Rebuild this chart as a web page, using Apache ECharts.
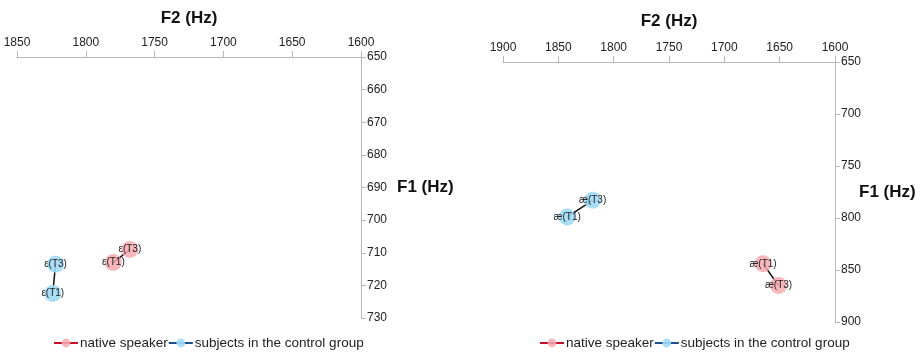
<!DOCTYPE html>
<html>
<head>
<meta charset="utf-8">
<script src="https://cdn.jsdelivr.net/npm/echarts@6/dist/echarts.min.js"></script>
<style>
  html, body { margin: 0; padding: 0; background: #fff; }
  #chart { width: 920px; height: 353px; }
</style>
</head>
<body>
<div id="chart"></div>
<script>
// left panel: /ε/
const leftLabels = ["ε(T1)", "ε(T3)"];
const leftNativeF2 = [1780, 1768];
const leftNativeF1 = [713, 709];
const leftControlF2 = [1824, 1822];
const leftControlF1 = [722.5, 713.5];

// right panel: /æ/
const rightLabels = ["æ(T1)", "æ(T3)"];
const rightNativeF2 = [1665, 1651];
const rightNativeF1 = [844, 865];
const rightControlF2 = [1842, 1819];
const rightControlF1 = [799, 783];

const seriesNames = ["native speaker", "subjects in the control group"];
const pink = "rgba(247,170,178,0.85)";
const blue = "rgba(160,218,246,0.9)";

const font = "Liberation Sans, Arial, sans-serif";

function pts(f2, f1, labels) {
  return f2.map((v, i) => ({ value: [v, f1[i]], label: { formatter: labels[i] } }));
}

function mkSeries(name, color, idx, f2, f1, labels) {
  return {
    name,
    type: "line",
    xAxisIndex: idx,
    yAxisIndex: idx,
    data: pts(f2, f1, labels),
    symbol: "circle",
    symbolSize: 17,
    itemStyle: { color },
    lineStyle: { color: "#111", width: 1.5 },
    label: {
      show: true,
      position: "inside",
      color: "#222",
      fontSize: 10,
      fontFamily: font,
    },
    z: 3,
  };
}

function xAxis(idx, min, max, gap) {
  return {
    gridIndex: idx,
    type: "value",
    position: "top",
    inverse: true,
    min,
    max,
    interval: 50,
    name: "F2 (Hz)",
    nameLocation: "middle",
    nameGap: gap,
    nameMoveOverlap: false,
    nameTextStyle: { fontSize: 17, fontWeight: "bold", color: "#111", fontFamily: font },
    axisLine: { lineStyle: { color: "#b8b8b8" } },
    axisTick: { show: true, length: 6, lineStyle: { color: "#b8b8b8" } },
    axisLabel: { color: "#222", fontSize: 12, fontFamily: font, margin: 8, formatter: (v) => String(v) },
    splitLine: { show: false },
  };
}

function yAxis(idx, min, max, interval, gap) {
  return {
    gridIndex: idx,
    type: "value",
    position: "right",
    inverse: true,
    min,
    max,
    interval,
    name: "F1 (Hz)",
    nameLocation: "middle",
    nameRotate: 0,
    nameGap: gap,
    nameMoveOverlap: false,
    nameTextStyle: { fontSize: 17, fontWeight: "bold", color: "#111", fontFamily: font, align: "left" },
    axisLine: { show: true, lineStyle: { color: "#b8b8b8" } },
    axisTick: { show: true, length: 5, lineStyle: { color: "#b8b8b8" } },
    axisLabel: { color: "#222", fontSize: 12, fontFamily: font, margin: 6, formatter: (v) => String(v) },
    splitLine: { show: false },
  };
}

function legend(left) {
  return {
    left,
    top: 331,
    itemWidth: 24,
    itemHeight: 11,
    itemGap: 0,
    textStyle: { fontSize: 13.5, color: "#222", fontFamily: font, padding: [0, 0, 0, -3] },
    data: [
      { name: seriesNames[0], itemStyle: { color: pink }, lineStyle: { color: "#c0102c", width: 2 } },
      { name: seriesNames[1], itemStyle: { color: blue }, lineStyle: { color: "#1d4f8c", width: 2 } },
    ],
  };
}

const chart = echarts.init(document.getElementById("chart"), null, { renderer: "canvas" });
chart.setOption({
  backgroundColor: "#fff",
  animation: false,
  grid: [
    { left: 17, top: 57, width: 344, height: 261, outerBoundsMode: "none", containLabel: false },
    { left: 503, top: 62, width: 332, height: 260, outerBoundsMode: "none", containLabel: false },
  ],
  xAxis: [xAxis(0, 1600, 1850, 30), xAxis(1, 1600, 1900, 32)],
  yAxis: [yAxis(0, 650, 730, 10, 36), yAxis(1, 650, 900, 50, 24)],
  legend: [legend(48), legend(534)],
  series: [
    mkSeries(seriesNames[0], pink, 0, leftNativeF2, leftNativeF1, leftLabels),
    mkSeries(seriesNames[1], blue, 0, leftControlF2, leftControlF1, leftLabels),
    mkSeries(seriesNames[0], pink, 1, rightNativeF2, rightNativeF1, rightLabels),
    mkSeries(seriesNames[1], blue, 1, rightControlF2, rightControlF1, rightLabels),
  ],
});
</script>
</body>
</html>
